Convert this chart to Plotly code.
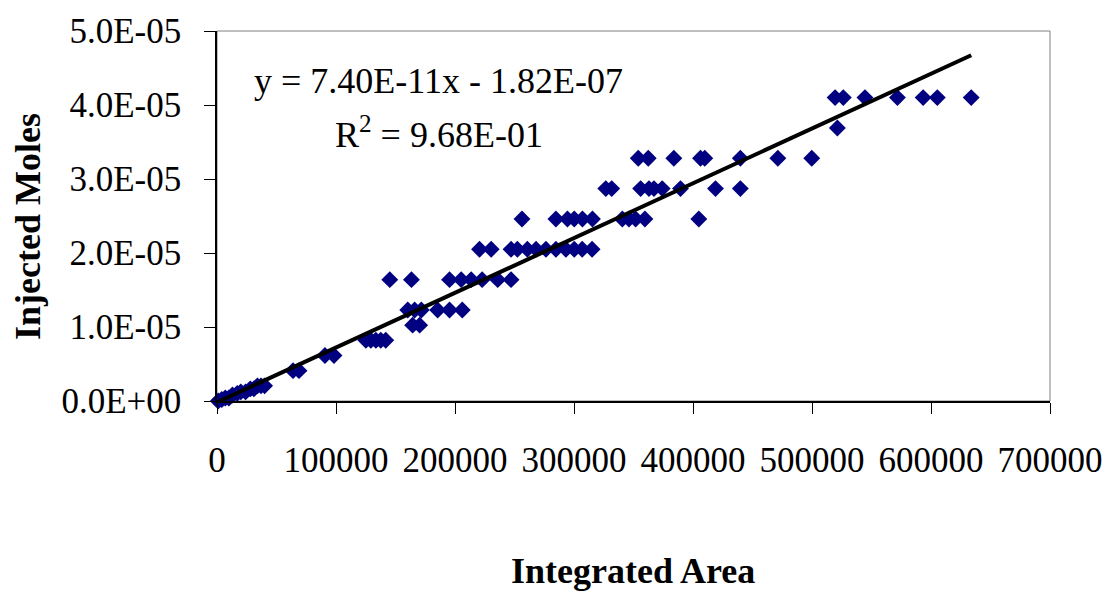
import plotly.graph_objects as go

# Integrated area (x) and injected moles (y)
area = [
    1000, 4000, 7000, 10000, 13000, 17000, 20000, 24000, 28000, 31000, 34000, 37000, 40000,
    63900, 68900,
    90700, 98300,
    125100, 129300, 133500, 137600, 141800,
    164400, 170300,
    160300, 166100, 171700, 185400, 195400, 206100,
    145200, 163400, 195400, 205200, 213600, 222800, 235900, 247100,
    220600, 230400, 247100, 252400, 260800, 268100, 276400, 284800, 293200, 300200, 306900, 315200,
    256300, 284800, 294500, 300200, 307100, 315500, 340600, 346200, 351800, 359600, 404900,
    326700, 331700, 356000, 363000, 367200, 374100, 389500, 418900, 439800,
    354000, 362400, 383900, 406300, 409900, 439800, 471300, 499800,
    521300,
    519400, 526300, 544500, 571800, 593400, 605300, 633800,
]
moles = (
    [0.0, 2.0e-7, 4.1e-7, 4.1e-7, 8.2e-7, 1.03e-6, 1.23e-6, 1.23e-6, 1.64e-6, 1.64e-6, 2.05e-6, 2.05e-6, 2.05e-6]
    + [4.1e-6] * 2
    + [6.15e-6] * 2
    + [8.2e-6] * 5
    + [1.025e-5] * 2
    + [1.23e-5] * 6
    + [1.64e-5] * 8
    + [2.05e-5] * 12
    + [2.46e-5] * 11
    + [2.87e-5] * 9
    + [3.28e-5] * 8
    + [3.69e-5] * 1
    + [4.10e-5] * 7
)

slope = 7.40e-11
intercept = -1.82e-07
x_ticks = [0, 100000, 200000, 300000, 400000, 500000, 600000, 700000]
y_ticks = [0, 1e-5, 2e-5, 3e-5, 4e-5, 5e-5]
y_tick_text = ["0.0E+00", "1.0E-05", "2.0E-05", "3.0E-05", "4.0E-05", "5.0E-05"]

FONT = "Liberation Serif"

fig = go.Figure()
fig.add_trace(go.Scatter(
    x=area, y=moles, mode="markers",
    marker=dict(symbol="diamond", size=13, color="#000080", line=dict(width=0)),
    showlegend=False, cliponaxis=False,
))
line_x = [0, max(area)]
line_y = [slope * v + intercept for v in line_x]
fig.add_trace(go.Scatter(
    x=line_x, y=line_y, mode="lines",
    line=dict(color="black", width=4), showlegend=False, cliponaxis=False,
))

fig.update_layout(
    width=1115, height=594,
    margin=dict(l=217, r=63, t=26, b=193),
    plot_bgcolor="white", paper_bgcolor="white",
    font=dict(family=FONT, size=35, color="black"),
    xaxis=dict(
        range=[0, 700000], tickvals=x_ticks, ticktext=[str(v) for v in x_ticks],
        showgrid=False, zeroline=False, showline=True, linecolor="black", linewidth=1.5,
        ticks="outside", ticklen=11, tickcolor="black", tickwidth=1,
        ticklabelstandoff=16, tickfont=dict(family=FONT, size=35),
    ),
    yaxis=dict(
        range=[0, 5e-5], tickvals=y_ticks, ticktext=y_tick_text,
        showgrid=False, zeroline=False, showline=True, linecolor="black", linewidth=1.5,
        ticks="outside", ticklen=11, tickcolor="black", tickwidth=1,
        ticklabelstandoff=16, tickfont=dict(family=FONT, size=35),
    ),
    shapes=[dict(type="rect", xref="paper", yref="paper", x0=0, y0=0, x1=1, y1=1,
                 line=dict(color="#808080", width=1), layer="below")],
    annotations=[
        dict(text="y = 7.40E-11x - 1.82E-07", xref="paper", yref="paper",
             x=(252 - 217) / 835.6, y=(401 - 77) / 375, xanchor="left", yanchor="middle",
             showarrow=False, font=dict(family=FONT, size=36)),
        dict(text="R<sup>2</sup> = 9.68E-01", xref="paper", yref="paper",
             x=(333 - 217) / 835.6, y=(401 - 129) / 375, xanchor="left", yanchor="middle",
             showarrow=False, font=dict(family=FONT, size=36)),
        dict(text="<b>Integrated Area</b>", xref="paper", yref="paper",
             x=(634 - 217) / 835.6, y=(401 - 573) / 375, xanchor="center", yanchor="middle",
             showarrow=False, font=dict(family=FONT, size=36)),
        dict(text="<b>Injected Moles</b>", xref="paper", yref="paper",
             x=(28 - 217) / 835.6, y=(401 - 224) / 375, xanchor="center", yanchor="middle",
             textangle=-90, showarrow=False, font=dict(family=FONT, size=36)),
    ],
)

fig.write_html("out.html")
